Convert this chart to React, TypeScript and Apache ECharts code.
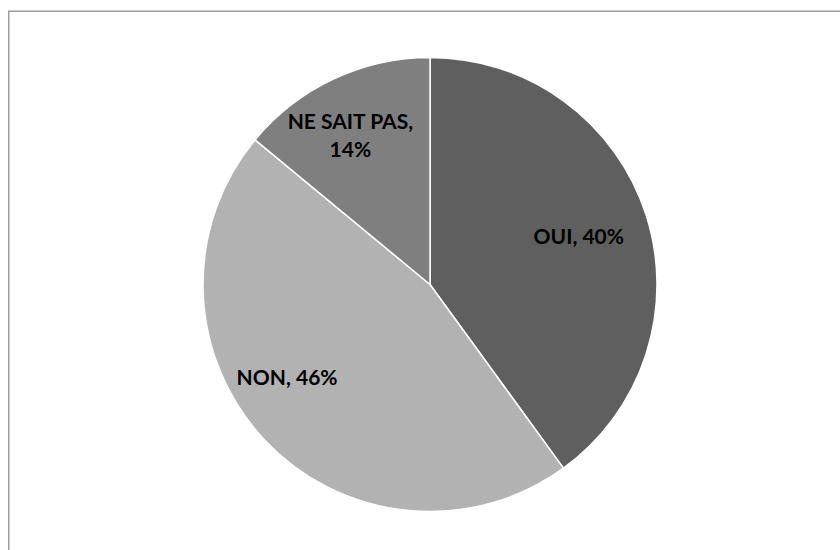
import React, { useEffect, useRef } from "react";
import * as echarts from "echarts";

const categories = ["OUI", "NON", "NE SAIT PAS"];
const values = [40, 46, 14];

const sliceColors = ["#5f5f5f", "#b2b2b2", "#7f7f7f"];
const labelShift = [
  [38, -13],
  [-58, 12],
  [-30, -45],
];

export default function App() {
  const ref = useRef<HTMLDivElement>(null);
  useEffect(() => {
    if (!ref.current) return;
    const chart = echarts.init(ref.current, undefined, { renderer: "svg" });
    chart.setOption({
      animation: false,
      backgroundColor: "#ffffff",
      graphic: [
        {
          type: "rect",
          shape: { x: 8.75, y: 11.25, width: 900, height: 600 },
          style: { fill: "none", stroke: "#9d9d9d", lineWidth: 1.5 },
          silent: true,
        },
      ],
      series: [
        {
          type: "pie",
          center: [430, 284.5],
          radius: [0, 227],
          startAngle: 90,
          clockwise: true,
          avoidLabelOverlap: false,
          data: categories.map((name, i) => ({
            name,
            value: values[i],
            itemStyle: { color: sliceColors[i] },
          })),
          itemStyle: { borderColor: "#ffffff", borderWidth: 1.5 },
          label: {
            show: true,
            position: "inside",
            color: "#000000",
            fontFamily: "Lato",
            fontWeight: "bold",
            fontSize: 21,
            lineHeight: 28,
            align: "center",
            formatter: (p: any) =>
              p.name.length > 6 ? `${p.name},\n${p.value}%` : `${p.name}, ${p.value}%`,
          },
          labelLine: { show: false },
          labelLayout: (p: any) => ({
            dx: labelShift[p.dataIndex][0],
            dy: labelShift[p.dataIndex][1],
          }),
          emphasis: { disabled: true },
        },
      ],
    });
    return () => chart.dispose();
  }, []);
  return (
    <div
      ref={ref}
      style={{ position: "fixed", left: 0, top: 0, width: 840, height: 550 }}
    />
  );
}
